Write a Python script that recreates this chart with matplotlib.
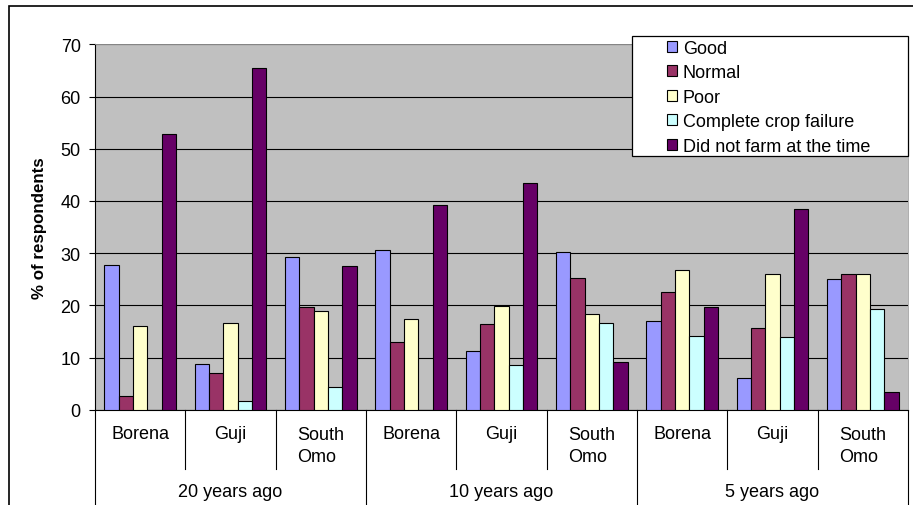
import numpy as np
import matplotlib.pyplot as plt
from matplotlib.patches import Rectangle
from matplotlib.transforms import blended_transform_factory

plt.rcParams['font.family'] = ['Liberation Sans', 'DejaVu Sans']

periods = ["20 years ago", "10 years ago", "5 years ago"]
zones = ["Borena", "Guji", "South\nOmo"]
series = ["Good", "Normal", "Poor", "Complete crop failure", "Did not farm at the time"]

# % of respondents, order: 20y (Borena, Guji, South Omo), 10y (...), 5y (...)
good = [27.8, 8.8, 29.3, 30.5, 11.3, 30.3, 16.9, 6.1, 25.0]
normal = [2.7, 7.0, 19.7, 12.9, 16.4, 25.2, 22.5, 15.7, 26.0]
poor = [16.1, 16.7, 19.0, 17.4, 19.9, 18.3, 26.8, 26.0, 26.0]
crop_failure = [0.0, 1.7, 4.3, 0.0, 8.6, 16.7, 14.1, 13.9, 19.2]
no_farm = [52.8, 65.5, 27.6, 39.2, 43.4, 9.1, 19.7, 38.4, 3.3]

colors = ["#9999FF", "#993366", "#FFFFCC", "#CCFFFF", "#660066"]
fs = 13

W, H = 913, 506
fig = plt.figure(figsize=(W / 100, H / 100), dpi=100)

# plot area in pixels
left, right, top, bottom = 95, 908, 45.3, 410.7
ax = fig.add_axes([left / W, 1 - bottom / H, (right - left) / W, (bottom - top) / H])
ax.set_facecolor("#C0C0C0")

# outer chart border (runs off the right and bottom edges)
fig.patches.append(Rectangle((9 / W, -0.1), 1.2, 1.1 - 7 / H, transform=fig.transFigure,
                             fill=False, edgecolor="black", linewidth=1.2, zorder=0))

n = len(periods) * len(zones)
x = np.arange(n) + 0.5
bw = 0.158
for j, (vals, name) in enumerate(zip([good, normal, poor, crop_failure, no_farm], series)):
    ax.bar(x + (j - 2) * bw, vals, width=bw, color=colors[j], edgecolor="black",
           linewidth=0.8, label=name, zorder=3)

ax.set_xlim(0, n)
ax.set_ylim(0, 70)
ax.set_yticks(range(0, 71, 10))
ax.yaxis.grid(True, color="black", linewidth=0.8, zorder=1)
ax.tick_params(axis="y", length=4.3, width=0.8, pad=6, labelsize=fs)
ax.set_xticks([])
ax.set_ylabel("% of respondents", fontsize=12.2, fontweight="bold", labelpad=10)

for s in ["top", "right"]:
    ax.spines[s].set_color("#A0A0A0")
    ax.spines[s].set_linewidth(0.6)
ax.spines["left"].set_linewidth(0.8)
ax.spines["bottom"].set_linewidth(0.8)

# two-level category axis
ph = bottom - top
tr = blended_transform_factory(ax.transData, ax.transAxes)
for i in range(n + 1):
    ylow = -0.4 if i % 3 == 0 else -(470 - bottom) / ph
    ax.plot([i, i], [0, ylow], color="black", linewidth=0.8, transform=tr, clip_on=False)
for i in range(n):
    label = zones[i % 3]
    yc = -(446.5 - bottom) / ph if "\n" in label else -(435 - bottom) / ph
    ax.text(x[i], yc, label, transform=tr, ha="center", va="center", fontsize=fs,
            multialignment="left", linespacing=1.45)
for g, p in enumerate(periods):
    ax.text(g * 3 + 1.5, -(492.7 - bottom) / ph, p, transform=tr, ha="center",
            va="center", fontsize=fs)

# legend box
lx0, ly0, lx1, ly1 = 631.7, 36.7, 907.5, 156.7
fig.patches.append(Rectangle((lx0 / W, 1 - ly1 / H), (lx1 - lx0) / W, (ly1 - ly0) / H,
                             transform=fig.transFigure, facecolor="white",
                             edgecolor="black", linewidth=0.9, zorder=1))
fig.legend(loc="upper left", bbox_to_anchor=(667 / W, 1 - 40.5 / H), frameon=False,
           fontsize=fs, handlelength=0.58, handleheight=0.58, handletextpad=0.3,
           labelspacing=0.42, borderpad=0, borderaxespad=0)

fig.savefig("out.png", dpi=100)
